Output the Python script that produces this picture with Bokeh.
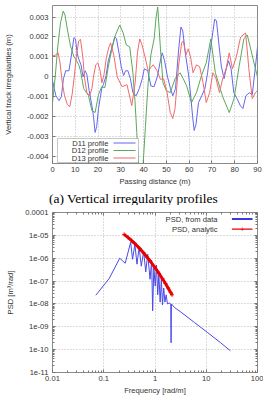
from bokeh.plotting import figure
from bokeh.layouts import column
from bokeh.models import FixedTicker, Label, BoxAnnotation, LogAxis, Title, Div
from bokeh.embed import file_html
from bokeh.resources import INLINE

# ---------------- (a) vertical irregularity profiles ----------------
d11_x = [0, 1.5, 2.9, 3.9, 4.8, 5.8, 7.2, 8.2, 9.4, 10.1, 10.8, 11.5, 12.5, 13.4, 14.4, 15.1,
         16.1, 17.3, 18.0, 18.7, 19.4, 20.2, 20.9, 21.6, 22.3, 23.5, 24.5, 25.9, 27.4, 28.1,
         29.2, 30.2, 31.2, 32.1, 33.1, 34.2, 35.3, 36.7, 38.1, 39.4, 40.3, 41.8, 43.2, 44.6,
         46.1, 47.5, 48.2, 49.2, 50.4, 51.8, 52.8, 54.0, 55.4, 56.4, 57.2, 58.3, 59.8, 60.8,
         61.5, 62.2, 63.0, 64.1, 65.5, 66.9, 68.1, 69.1, 70.1, 71.2, 72.0, 73.0, 74.1, 75.3,
         76.3, 77.3, 78.4, 79.6, 81.0, 82.5, 83.6, 84.9, 86.4, 87.7, 89.1, 90.0]
d11_y = [-0.0002, -0.00096, -0.0012, -0.001, -0.0001, 0.0003, 0.0003, 0.001, 0.00196, 0.0019,
         0.0012, 0.0009, 0.0006, 0.0, 0.0003, 0.0001, -0.0007, -0.00146, -0.002, -0.0028,
         -0.0025, -0.0016, -0.0011, -0.0006, -0.0004, 0.00004, 0.0008, 0.0014, 0.002, 0.0019,
         0.0012, 0.0005, 0.00006, 0.0003, 0.0003, -0.0001, -0.0008, -0.00096, -0.0006, -0.0001,
         0.0004, 0.0003, -0.00046, -0.0005, 0.00004, 0.0009, 0.0012, 0.0008, 0.00004, -0.0006,
         -0.00096, -0.0006, 0.0014, 0.0025, 0.0023, 0.0012, 0.00004, -0.0011, -0.002, -0.0027,
         -0.0024, -0.0013, -0.00096, -0.0006, 0.0002, 0.0012, 0.002, 0.0029, 0.0028, 0.0017,
         0.00054, -0.0001, 0.0004, 0.0008, 0.0004, -0.0008, -0.0011, -0.00146, -0.0016,
         -0.00096, -0.0008, -0.0009, 0.0005, 0.0015]

d12_x = [0, 1.2, 2.3, 3.5, 4.7, 5.5, 6.5, 7.9, 9.4, 10.1, 11.5, 12.3, 13.7, 15.8, 17.3, 18.7,
         20.2, 21.6, 23.0, 24.5, 25.9, 27.3, 29.5, 31.0, 32.4, 33.9, 35.3, 36.2, 37.0, 37.8,
         38.8, 39.8, 40.8, 42.0, 43.2, 44.6, 45.5, 46.2, 47.4, 48.5, 50.0, 51.7, 53.8, 56.0,
         57.4, 58.9, 61.0, 63.2, 65.4, 67.5, 69.5, 71.5, 74.7, 77.6, 79.7, 81.9, 84.0, 85.5,
         87.0, 89.1, 90.0]
d12_y = [-0.0013, 0.0, 0.0015, 0.0027, 0.0033, 0.0031, 0.0024, 0.00155, 0.001, 0.0009, 0.0006,
         0.0003, -0.0006, -0.00095, -0.0017, -0.0018, -0.0009, -0.0005, -0.00055, 0.0005,
         0.0013, 0.002, 0.0026, 0.0022, 0.0016, 0.0015, 0.0002, -0.0012, -0.0028, -0.0044,
         -0.0052, -0.0044, -0.0025, -0.0003, 0.0011, 0.0019, 0.003, 0.0035, 0.0014, -0.0003,
         -0.0007, -0.0008, -0.0001, 0.0002, -0.0001, -0.00046, -0.0013, -0.0008, 0.00005,
         0.0007, 0.0019, 0.0002, -0.001, -0.0018, -0.0011, 0.0005, 0.0019, 0.0021, 0.0014,
         0.0004, 0.0]

d13_x = [0, 1.5, 2.5, 3.3, 4.3, 5.3, 6.5, 7.6, 8.6, 9.6, 10.5, 11.5, 12.3, 13.3, 14.1, 15.1,
         16.3, 17.3, 18.0, 19.0, 19.9, 20.9, 21.7, 22.6, 23.7, 24.8, 25.5, 26.9, 28.4, 30.5,
         32.7, 34.8, 36.3, 37.3, 38.3, 39.3, 40.6, 42.0, 44.2, 45.9, 47.4, 48.8, 50.3, 51.7,
         52.8, 53.8, 55.3, 56.7, 57.4, 58.6, 59.6, 60.6, 61.7, 63.2, 64.6, 66.1, 67.5, 69.0,
         70.4, 71.8, 73.3, 74.7, 76.2, 77.6, 79.0, 80.7, 82.6, 84.8, 86.2, 87.7, 89.1, 90.0]
d13_y = [0.00104, 0.0011, 0.0012, 0.0007, -0.0003, -0.00096, -0.0014, -0.0015, -0.0009,
         0.00004, 0.00104, 0.0018, 0.00188, 0.001, -0.0001, -0.0008, -0.00096, -0.0006, 0.0,
         0.0006, 0.0007, 0.0003, -0.0003, 0.0001, 0.001, 0.0015, 0.0017, 0.0011, 0.0,
         -0.0005, -0.0004, -0.00145, -0.0003, 0.0012, 0.0019, 0.0016, 0.001, 0.0003, 0.0006,
         0.0003, -0.00013, -0.0001, -0.0008, -0.0018, -0.0021, -0.0016, 0.0005, 0.0017,
         0.0018, 0.0011, 0.0014, 0.001, 0.0002, 0.0006, 0.0005, -0.0003, -0.0013, -0.0008,
         0.0002, -0.0001, -0.0008, -0.0001, 0.0004, 0.0012, 0.0004, 0.001, 0.002, 0.0022,
         0.0004, -0.0011, -0.0008, -0.0007]

profile_xticks = [0, 10, 20, 30, 40, 50, 60, 70, 80, 90]
profile_yticks = [-0.004, -0.003, -0.002, -0.001, 0.0, 0.001, 0.002, 0.003]
profile_ylabels = ["-0.004", "-0.003", "-0.002", "-0.001", "0", "0.001", "0.002", "0.003"]
profile_names = ["D11 profile", "D12 profile", "D13 profile"]

# ---------------- (b) power spectral density ----------------
psd_data_f = [0.070, 0.128, 0.205, 0.262, 0.335, 0.365, 0.405, 0.445, 0.49, 0.54, 0.60, 0.66,
              0.72, 0.80, 0.86, 0.90, 0.95, 1.01, 1.07, 1.13, 1.19, 1.26, 1.33, 1.40, 1.48,
              1.56, 1.65, 1.75, 1.90, 2.03, 2.06, 2.09, 2.4, 3.25, 5.86, 10.6, 19.1, 29.6]
psd_data_s = [2.4e-8, 1.3e-7, 1.0e-6, 6.0e-7, 5.0e-6, 9.0e-7, 4.0e-6, 5.5e-7, 3.0e-6, 4.5e-7,
              2.0e-6, 2.5e-7, 1.5e-6, 1.2e-7, 8.0e-7, 5.0e-9, 4.0e-7, 6.0e-8, 5.0e-7, 2.5e-8,
              2.0e-7, 1.2e-8, 1.2e-7, 9.0e-9, 5.0e-8, 1.2e-8, 2.5e-8, 1.0e-8, 1.1e-8, 1.0e-8,
              2.0e-10, 1.0e-8, 7.0e-9, 4.3e-9, 1.55e-9, 5.6e-10, 2.0e-10, 8.9e-11]

psd_model_f = [0.25, 0.3, 0.35, 0.4, 0.5, 0.6, 0.7, 0.8, 1.0, 1.2, 1.4, 1.6, 1.8, 2.0, 2.15]
psd_model_s = [1.10e-5, 8.0e-6, 5.9e-6, 4.5e-6, 2.7e-6, 1.7e-6, 1.12e-6, 7.7e-7, 3.9e-7,
               2.15e-7, 1.26e-7, 7.8e-8, 5.0e-8, 3.3e-8, 2.5e-8]

psd_xticks = [0.01, 0.1, 1.0, 10.0, 100.0]
psd_xlabels = ["0.01", "0.1", "1", "10", "100"]
psd_yticks = [1e-11, 1e-10, 1e-9, 1e-8, 1e-7, 1e-6, 1e-5, 1e-4]
psd_ylabels = ["1e-11", "1e-10", "1e-09", "1e-08", "1e-07", "1e-06", "1e-05", "0.0001"]
psd_names = ["PSD, from data", "PSD, analytic"]

FONT = "Liberation Sans"
SERIF = "Liberation Serif"
TXT = "7.6px"
GRID = "#b8b8b8"
BLUE, GREEN, RED = "#6464f0", "#5aa85a", "#f06a6a"


def style_axis(ax, ticks, labels, minor=(), show_labels=True):
    ax.ticker = FixedTicker(ticks=list(ticks), minor_ticks=list(minor))
    ax.major_label_overrides = {float(t): l for t, l in zip(ticks, labels)}
    ax.axis_line_color = None
    ax.major_tick_out = 0
    ax.major_tick_in = 3
    ax.minor_tick_out = 0
    ax.minor_tick_in = 2 if minor else 0
    ax.major_tick_line_color = "#777777"
    ax.minor_tick_line_color = "#777777"
    ax.major_label_text_font = FONT
    ax.major_label_text_color = "#333333"
    ax.axis_label_text_font = FONT
    ax.axis_label_text_font_size = TXT
    ax.axis_label_text_font_style = "normal"
    ax.axis_label_text_color = "#333333"
    if show_labels:
        ax.major_label_text_font_size = TXT
    else:
        # mirrored border ticks only
        ax.major_label_text_font_size = "1px"
        ax.major_label_text_color = None
        ax.major_label_standoff = 0


def screen_box(left, right, bottom, top, **kw):
    return BoxAnnotation(left=left, right=right, bottom=bottom, top=top,
                         left_units="screen", right_units="screen",
                         bottom_units="screen", top_units="screen", **kw)


def screen_text(x, y, text, align="right", size=TXT, color="#333333"):
    return Label(x=x, y=y, x_units="screen", y_units="screen", text=text,
                 text_align=align, text_baseline="middle", text_font=FONT,
                 text_font_size=size, text_color=color)


# ---- top figure ----
p1 = figure(width=263, height=205, x_range=(0, 90), y_range=(-0.00436, 0.00358),
            output_backend="svg", toolbar_location=None,
            min_border_left=48, min_border_right=6, min_border_top=5, min_border_bottom=40)
p1.outline_line_color = "#8a8a8a"
p1.background_fill_color = "white"
p1.border_fill_color = "white"

for xs, ys, c in ((d11_x, d11_y, BLUE), (d12_x, d12_y, GREEN), (d13_x, d13_y, RED)):
    p1.line(xs, ys, line_color=c, line_width=1)

style_axis(p1.xaxis[0], profile_xticks, [str(t) for t in profile_xticks])
style_axis(p1.yaxis[0], profile_yticks, profile_ylabels)
p1.xaxis[0].major_label_standoff = 3
p1.xaxis[0].axis_label = "Passing distance (m)"
p1.xaxis[0].axis_label_standoff = 2
p1.yaxis[0].major_label_standoff = 4
p1.yaxis[0].axis_label = "Vertical track irregularities (m)"
p1.yaxis[0].axis_label_standoff = 11
for g in (p1.xgrid[0], p1.ygrid[0]):
    g.grid_line_color = GRID
    g.grid_line_dash = "1 2"

# legend box: right-aligned labels followed by line samples
p1.add_layout(screen_box(5, 86, 1, 25, fill_color="white", fill_alpha=1.0,
                         line_color="#444444", line_width=1))
for name, c, yy in zip(profile_names, (BLUE, GREEN, RED), (20.5, 13.0, 5.5)):
    p1.add_layout(screen_text(56, yy, name))
    p1.add_layout(screen_box(61, 83, yy - 0.5, yy + 0.5, fill_color=c, fill_alpha=1.0,
                             line_alpha=0))

p1.add_layout(Title(text="(a)  Vertical irregularity profiles", align="left", offset=-3.5,
                    standoff=0, text_font=SERIF, text_font_size="13.5px",
                    text_font_style="normal", text_color="black"), "below")

# ---- bottom figure ----
p2 = figure(width=263, height=192, x_axis_type="log", y_axis_type="log",
            x_range=(0.01, 100), y_range=(1e-11, 1e-4),
            output_backend="svg", toolbar_location=None,
            min_border_left=48, min_border_right=6, min_border_top=7, min_border_bottom=25)
p2.outline_line_color = "#8a8a8a"
p2.background_fill_color = "white"
p2.border_fill_color = "white"

p2.line(psd_data_f, psd_data_s, line_color="#4a4ae8", line_width=1)
p2.line(psd_model_f, psd_model_s, line_color="#e80000", line_width=3)
p2.scatter(psd_model_f, psd_model_s, marker="cross", size=4, line_color="#e80000")

x_minor = [m * t for t in psd_xticks[:-1] for m in range(2, 10)]
y_minor = [m * t for t in psd_yticks[:-1] for m in range(2, 10)]
p2.add_layout(LogAxis(), "above")
p2.add_layout(LogAxis(), "right")
style_axis(p2.below[0], psd_xticks, psd_xlabels, x_minor)
style_axis(p2.above[0], psd_xticks, psd_xlabels, x_minor, show_labels=False)
style_axis(p2.left[0], psd_yticks, psd_ylabels, y_minor)
style_axis(p2.right[0], psd_yticks, psd_ylabels, y_minor, show_labels=False)
p2.below[0].major_label_standoff = 3
p2.below[0].axis_label = "Frequency [rad/m]"
p2.below[0].axis_label_standoff = 2
p2.left[0].major_label_standoff = 4
p2.left[0].axis_label = "PSD [m³/rad]"
p2.left[0].axis_label_standoff = 7
for g in (p2.xgrid[0], p2.ygrid[0]):
    g.grid_line_color = GRID
    g.grid_line_dash = "1 2"

# legend, top right, no frame
p2.add_layout(screen_text(165, 153.4, psd_names[0]))
p2.add_layout(screen_box(179.4, 200, 152.4, 154.4, fill_color="#3a3ae0", fill_alpha=1.0,
                         line_alpha=0))
p2.add_layout(screen_text(165, 143.4, psd_names[1]))
p2.add_layout(screen_box(179.4, 200, 142.8, 144.0, fill_color="#e80000", fill_alpha=1.0,
                         line_alpha=0))
p2.add_layout(screen_text(189.7, 143.4, "+", align="center", size="7px", color="#e80000"))

caption_b = Div(text="(b)&nbsp;&nbsp;Power spectral density", width=263, height=4,
                styles={"overflow": "hidden", "text-align": "center",
                        "font-family": SERIF, "font-size": "13.5px",
                        "line-height": "13px", "color": "black"})

layout = column(p1, p2, caption_b, spacing=0)
open("out.html", "w").write(file_html(layout, INLINE))
